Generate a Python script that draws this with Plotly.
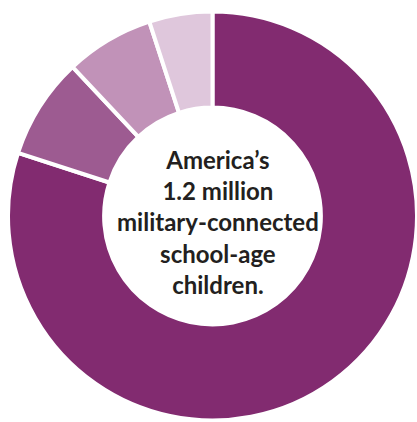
import plotly.graph_objects as go

categories = ["Group A", "Group B", "Group C", "Group D"]
values = [80, 8, 7, 5]
colors = ["#822b70", "#9d5b91", "#c192b8", "#dfc7dc"]
center_lines = ["America’s", "1.2 million", "military-connected", "school-age", "children."]

W, H = 417, 422

fig = go.Figure(go.Pie(
    labels=categories,
    values=values,
    sort=False,
    direction="clockwise",
    rotation=0,
    hole=0.53,
    textinfo="none",
    hoverinfo="label+percent",
    marker=dict(colors=colors, line=dict(color="white", width=4)),
    domain=dict(x=[8 / W, 1.0], y=[1.5 / H, 410.5 / H]),
    showlegend=False,
))

fig.add_annotation(
    text="<br>".join(center_lines),
    x=218 / W, y=1 - 222 / H, xref="paper", yref="paper",
    xanchor="center", yanchor="middle",
    showarrow=False, align="center",
    font=dict(family="Lato", size=24, color="#231f20", weight=700),
)

fig.update_layout(
    width=W, height=H,
    margin=dict(l=0, r=0, t=0, b=0),
    paper_bgcolor="white", plot_bgcolor="white",
)

fig.write_html(
    "out.html",
    config={"displayModeBar": False},
    post_script="document.body.style.margin='0';document.body.style.overflow='hidden';",
)
